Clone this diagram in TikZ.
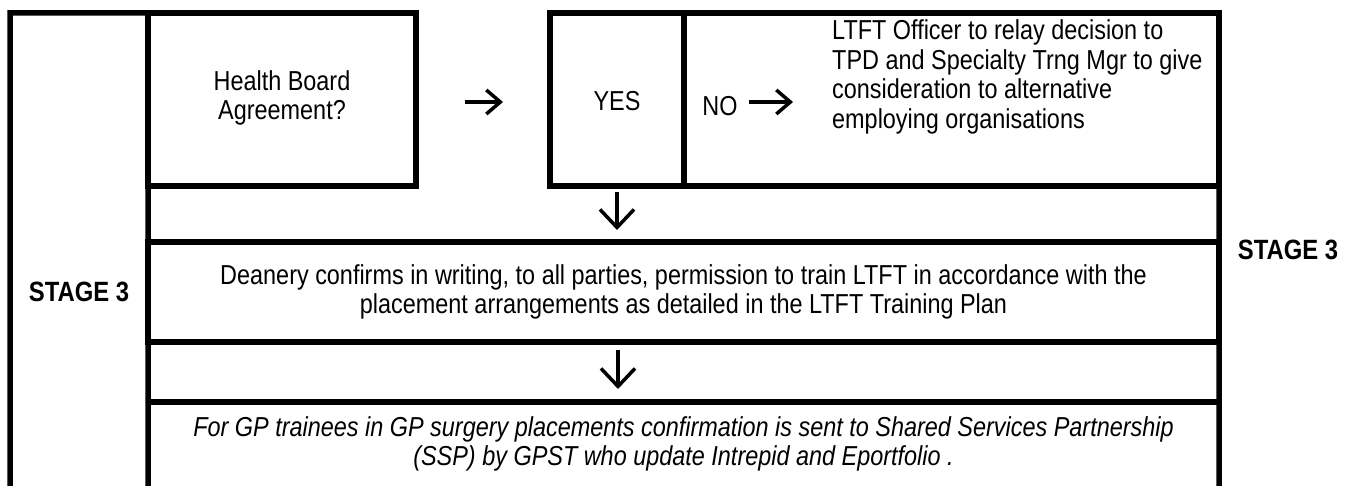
\documentclass[tikz,border=0pt]{standalone}
\usepackage{fontspec}
\setmainfont{Liberation Sans}[FakeStretch=0.855]
\usetikzlibrary{arrows.meta}
\begin{document}
\begin{tikzpicture}[x=1bp,y=-1bp,
  frame/.style={line width=5.5bp},
  box/.style={draw, line width=5.5bp, inner sep=0pt, outer sep=0pt, rectangle},
  txt/.style={font=\fontsize{27.5}{29.5}\selectfont, align=center, inner sep=0pt},
  itxt/.style={font=\fontsize{27.5}{29}\selectfont\itshape, align=center, inner sep=0pt},
  stagetxt/.style={font=\fontsize{28}{29.5}\selectfont\bfseries, inner sep=0pt},
  rarrow/.style={line width=3.5bp, -{Straight Barb[length=14bp, width=24bp, line width=3.5bp]}},
  darrow/.style={line width=3.5bp, -{Straight Barb[length=18bp, width=34bp, line width=3.5bp]}}
]
\useasboundingbox (0,0) rectangle (1348,486);

% top row boxes
\node[box, minimum width=268bp, minimum height=173bp] (hb) at (282,99.5) {};
\node[txt] (hbtxt) at (282,98) {Health Board\\Agreement?};
\node[box, minimum width=134bp, minimum height=173bp] (yes) at (617,99.5) {};
\node[txt] (yestxt) at (617,101) {YES};
\node[box, minimum width=535bp, minimum height=173bp] (no) at (951.5,99.5) {};
\node[txt] (notxt) at (720,106) {NO};
\node[txt, align=left, anchor=west] (ltft) at (832,77) {LTFT Officer to relay decision to\\TPD and Specialty Trng Mgr to give\\consideration to alternative\\employing organisations};

% deanery box
\node[box, minimum width=1071bp, minimum height=100bp] (dean) at (683.5,292) {};
\node[txt] (deantxt) at (683.5,292) {Deanery confirms in writing, to all parties, permission to train LTFT in accordance with the\\placement arrangements as detailed in the LTFT Training Plan};

% GP box (open at the bottom)
\coordinate (gptl) at (148,402);
\coordinate (gptr) at (1219,402);
\node[itxt] (gptxt) at (683.5,444) {For GP trainees in GP surgery placements confirmation is sent to Shared Services Partnership\\(SSP) by GPST who update Intrepid and Eportfolio .};

% frame lines
\coordinate (lb) at (10,486);
\coordinate (lt) at (10,13);
\coordinate (ib) at (148,486);
\coordinate (rb) at (1219,486);
\draw[frame] (lb) -- (lt) -- (hb.north west);
\draw[frame] (hb.south west) -- (ib);
\draw[frame] (no.south east) -- (rb);
\draw[frame] (gptl) -- (gptr);

% stage labels
\node[stagetxt] (stageL) at (79,292) {STAGE 3};
\node[stagetxt] (stageR) at (1288,250) {STAGE 3};

% arrows
\coordinate (a1s) at (465,102);
\coordinate (a1e) at (503,102);
\draw[rarrow] (a1s) -- (a1e);
\coordinate (a2s) at (749,102);
\coordinate (a2e) at (793,102);
\draw[rarrow] (a2s) -- (a2e);
\coordinate (a3s) at (617,192);
\coordinate (a3e) at (617,230);
\draw[darrow] (a3s) -- (a3e);
\coordinate (a4s) at (618,350);
\coordinate (a4e) at (618,389);
\draw[darrow] (a4s) -- (a4e);
\end{tikzpicture}
\end{document}
